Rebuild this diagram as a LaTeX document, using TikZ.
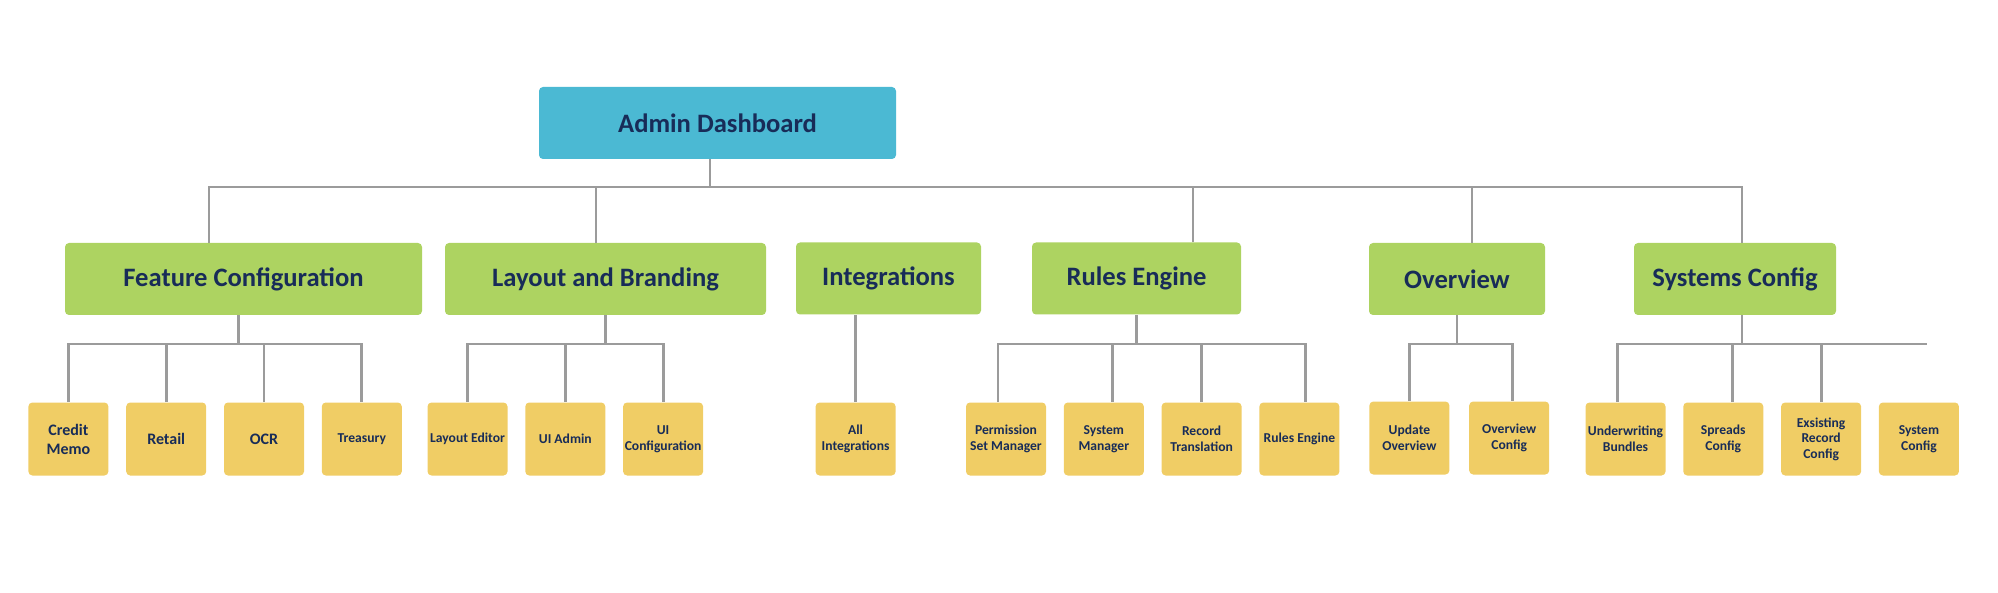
\documentclass[tikz,border=0pt]{standalone}
\usepackage{fontspec}
\setmainfont{Carlito}
\usetikzlibrary{positioning}
\definecolor{cRoot}{RGB}{75,185,211}
\definecolor{cCat}{RGB}{173,211,97}
\definecolor{cLeaf}{RGB}{240,205,101}
\definecolor{cText}{RGB}{24,44,88}
\definecolor{cLink}{RGB}{155,155,155}
\tikzset{
  root/.style={fill=cRoot, rounded corners=2pt, minimum width=178.5pt,
               minimum height=36pt, text=cText, inner sep=0pt,
               font=\bfseries\fontsize{13.3}{16}\selectfont},
  cat/.style={fill=cCat, rounded corners=2pt, minimum height=36pt,
              text=cText, inner sep=0pt,
              font=\bfseries\fontsize{13.3}{16}\selectfont},
  leaf/.style={fill=cLeaf, rounded corners=2pt, minimum width=40pt,
               minimum height=36.5pt, align=center, text=cText, inner sep=0pt,
               font=\bfseries\fontsize{6.8}{7.8}\selectfont},
  leafb/.style={leaf, font=\bfseries\fontsize{8}{9.5}\selectfont},
  link/.style={draw=cLink, line width=1.4pt},
}

\begin{document}
\begin{tikzpicture}[x=0.5pt, y=-0.5pt, node distance=8.5pt]
  \useasboundingbox (0,0) rectangle (1998,593);

  % top
  \node[root] (root) at (717.5,123) {Admin Dashboard};

  % sections
  \node[cat, minimum width=178.5pt] (fc) at (243.5,279) {Feature Configuration};
  \node[cat, minimum width=160.5pt] (lb) at (605.5,279) {Layout and Branding};
  \node[cat, minimum width=92.5pt]  (ig) at (888.5,278.5) {Integrations};
  \node[cat, minimum width=104.5pt] (re) at (1136.5,278.5) {Rules Engine};
  \node[cat, minimum width=88pt]    (ov) at (1457,279) {Overview};
  \node[cat, minimum width=101pt]   (sc) at (1735,279) {Systems Config};

  % pages
  \node[leafb] (cm) at (68.4,439) {Credit\\Memo};
  \node[leafb, right=of cm] (rt) {Retail};
  \node[leafb, right=of rt] (ocr) {OCR};
  \node[leaf, right=of ocr] (tr) {Treasury};

  \node[leaf] (le) at (467.5,439) {Layout Editor};
  \node[leaf, right=of le] (ua) {UI Admin};
  \node[leaf, right=of ua] (uc) {UI\\Configuration};

  \node[leaf] (ai) at (855.6,439) {All\\Integrations};

  \node[leaf] (ps) at (1006,439) {Permission\\Set Manager};
  \node[leaf, right=of ps] (sm) {System\\Manager};
  \node[leaf, right=of sm] (rtr) {Record\\Translation};
  \node[leaf, right=of rtr] (rl) {Rules Engine};

  \node[leaf] (uo) at (1409.4,438) {Update\\Overview};
  \node[leaf, right=9.5pt of uo] (oc) {Overview\\Config};

  \node[leaf] (ub) at (1625.5,439) {Underwriting\\Bundles};
  \node[leaf, right=of ub] (sp) {Spreads\\Config};
  \node[leaf, right=of sp] (er) {Exsisting\\Record\\Config};
  \node[leaf, right=of er] (sy) {System\\Config};

  % first level links
  \coordinate (bus1) at (0,187);
  \coordinate (bus2) at (0,344);
  \draw[link] ([xshift=-3.75pt]root.south) -- ([xshift=-3.75pt]root.south |- bus1);
  \draw[link] ([xshift=-17.25pt]fc.north) |- ([xshift=3.5pt]sc.north |- bus1) -- ([xshift=3.5pt]sc.north);
  \draw[link] ([xshift=-4.75pt]lb.north) -- ([xshift=-4.75pt]lb.north |- bus1);
  \draw[link] ([xshift=28.25pt]re.north) -- ([xshift=28.25pt]re.north |- bus1);
  \draw[link] ([xshift=7.5pt]ov.north) -- ([xshift=7.5pt]ov.north |- bus1);

  % feature configuration
  \draw[link] ([xshift=-2.5pt]fc.south) -- ([xshift=-2.5pt]fc.south |- bus2);
  \draw[link] (cm.north) |- (tr.north |- bus2) -- (tr.north);
  \draw[link] (rt.north) -- (rt.north |- bus2);
  \draw[link] (ocr.north) -- (ocr.north |- bus2);

  % layout and branding
  \draw[link] (lb.south) -- (lb.south |- bus2);
  \draw[link] (le.north) |- (uc.north |- bus2) -- (uc.north);
  \draw[link] (ua.north) -- (ua.north |- bus2);

  % integrations
  \draw[link] (ai.north) -- (ai.north |- ig.south);

  % rules engine
  \draw[link] (re.south) -- (re.south |- bus2);
  \draw[link] ([xshift=-4pt]ps.north) |- ([xshift=3pt]rl.north |- bus2) -- ([xshift=3pt]rl.north);
  \draw[link] ([xshift=4.5pt]sm.north) -- ([xshift=4.5pt]sm.north |- bus2);
  \draw[link] (rtr.north) -- (rtr.north |- bus2);

  % overview
  \draw[link] (ov.south) -- (ov.south |- bus2);
  \draw[link] (uo.north) |- ([xshift=1.5pt]oc.north |- bus2) -- ([xshift=1.5pt]oc.north);

  % systems config
  \draw[link] ([xshift=3.5pt]sc.south) -- ([xshift=3.5pt]sc.south |- bus2);
  \coordinate (scend) at ([xshift=4pt]sy.north |- bus2);
  \draw[link] ([xshift=-4pt]ub.north) |- (scend);
  \draw[link] ([xshift=4.5pt]sp.north) -- ([xshift=4.5pt]sp.north |- bus2);
  \draw[link] (er.north) -- (er.north |- bus2);
\end{tikzpicture}
\end{document}
